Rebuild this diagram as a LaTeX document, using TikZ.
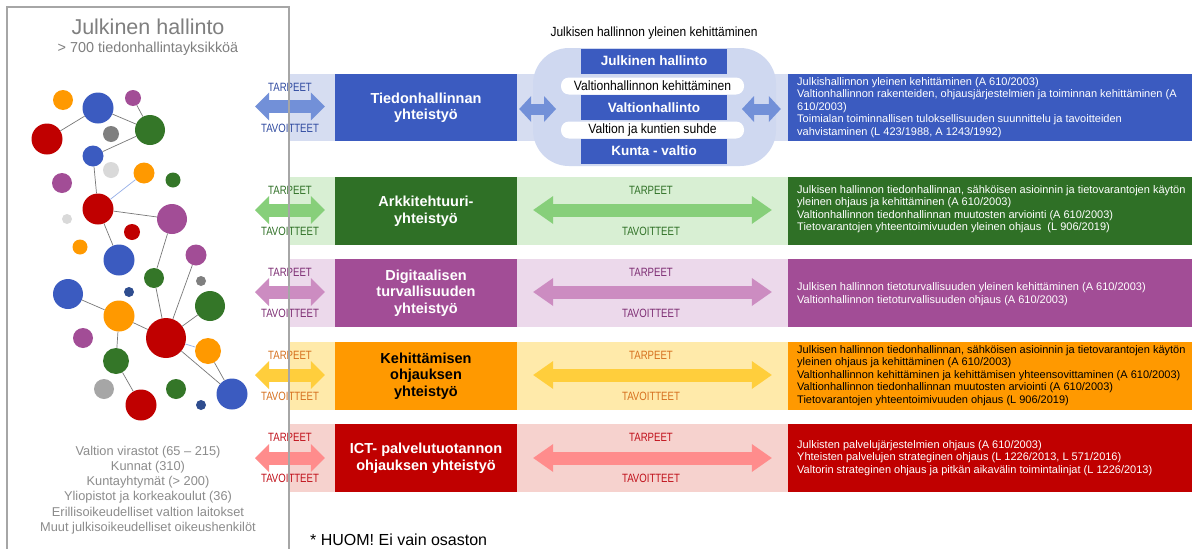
\documentclass[tikz,border=0pt]{standalone}
\usepackage{fontspec}
\setmainfont{Liberation Sans}
\newfontfamily\narrowfont[FakeStretch=0.8]{Liberation Sans}
\newfontfamily\semifont[FakeStretch=0.9]{Liberation Sans}
\usetikzlibrary{arrows.meta}
\definecolor{bDark}{RGB}{59,91,192}
\definecolor{bBand}{RGB}{214,221,241}
\definecolor{bArrow}{RGB}{114,144,216}
\definecolor{bLbl}{RGB}{47,74,160}
\definecolor{cloudc}{RGB}{207,216,240}
\definecolor{gDark}{RGB}{47,112,38}
\definecolor{gBand}{RGB}{216,239,211}
\definecolor{gArrow}{RGB}{135,207,122}
\definecolor{gLbl}{RGB}{47,112,38}
\definecolor{pDark}{RGB}{162,77,150}
\definecolor{pBand}{RGB}{236,217,235}
\definecolor{pArrow}{RGB}{204,140,193}
\definecolor{pLbl}{RGB}{125,45,115}
\definecolor{oDark}{RGB}{255,153,0}
\definecolor{oBand}{RGB}{255,234,170}
\definecolor{oArrow}{RGB}{255,206,60}
\definecolor{oLbl}{RGB}{214,112,30}
\definecolor{rDark}{RGB}{192,0,0}
\definecolor{rBand}{RGB}{246,210,206}
\definecolor{rArrow}{RGB}{255,140,140}
\definecolor{rLbl}{RGB}{192,16,26}
\definecolor{dOrange}{RGB}{255,153,0}
\definecolor{dBlue}{RGB}{59,91,192}
\definecolor{dPurple}{RGB}{162,77,150}
\definecolor{dRed}{RGB}{192,0,0}
\definecolor{dGreen}{RGB}{52,118,40}
\definecolor{dGray}{RGB}{127,127,127}
\definecolor{dLight}{RGB}{217,217,217}
\definecolor{dMid}{RGB}{166,166,166}
\definecolor{dNavy}{RGB}{47,77,143}
\definecolor{boxline}{RGB}{166,166,166}
\definecolor{graytext}{RGB}{140,140,140}
\definecolor{linkgray}{RGB}{120,120,120}
\definecolor{linkblue}{RGB}{150,175,232}
\begin{document}
\begin{tikzpicture}[x=1pt,y=-1pt,
  mainbox/.style={fill=#1, text=white, font=\bfseries\fontsize{14.5}{16.5}\selectfont, align=center, inner sep=0pt, minimum width=182pt, minimum height=68pt},
  rbox/.style={fill=#1, inner sep=0pt, minimum width=404pt, minimum height=68pt},
  rtext/.style={font=\fontsize{11}{12.5}\selectfont, align=left, inner sep=0pt, anchor=west},
  lbl/.style={font=\narrowfont\fontsize{12}{12}\selectfont, inner sep=0pt},
  dbl/.style={line width=13pt, {Triangle[width=28pt,length=14pt,line width=0pt]}-{Triangle[width=28pt,length=14pt,line width=0pt]}},
  dblmid/.style={line width=13pt, {Triangle[width=28pt,length=20pt,line width=0pt]}-{Triangle[width=28pt,length=20pt,line width=0pt]}},
  dblsmall/.style={line width=11pt, {Triangle[width=26pt,length=12pt,line width=0pt]}-{Triangle[width=26pt,length=12pt,line width=0pt]}},
  innerbox/.style={fill=bDark, text=white, font=\bfseries\fontsize{13.5}{14}\selectfont, inner sep=0pt, minimum width=146pt, minimum height=25pt},
  whitelbl/.style={fill=white, rounded corners=8pt, font=\semifont\fontsize{13.5}{14}\selectfont, inner sep=0pt, minimum width=183pt, minimum height=17pt},
  dot/.style={circle, fill=#1, inner sep=0pt, draw=none},
  link/.style={draw=linkgray, line width=0.7pt},
  linkb/.style={draw=linkblue, line width=0.7pt}
]
\useasboundingbox (0,0) rectangle (1192,549);
\fill[white] (0,0) rectangle (1192,549);

% ---------- bands ----------
\fill[bBand] (289,74) rectangle (788,141);
\fill[gBand] (289,177) rectangle (788,245);
\fill[pBand] (289,259) rectangle (788,327);
\fill[oBand] (289,342) rectangle (788,410);
\fill[rBand] (289,424) rectangle (788,492);

% ---------- cloud ----------
\fill[cloudc, rounded corners=36pt] (533,48) rectangle (776,166);
\node[font=\semifont\fontsize{13.3}{14}\selectfont, inner sep=0pt] (cloudtitle) at (654,33) {Julkisen hallinnon yleinen kehittäminen};
\node[innerbox] (jh) at (654,61) {Julkinen hallinto};
\node[whitelbl] (vk) at (652.5,86) {Valtionhallinnon kehittäminen};
\node[innerbox] (vh) at (654,107.5) {Valtionhallinto};
\node[whitelbl] (vks) at (652.5,130) {Valtion ja kuntien suhde};
\node[innerbox] (kv) at (654,151) {Kunta - valtio};

% ---------- main boxes ----------
\node[mainbox=bDark, minimum height=67pt] (m1) at (426,107.5) {Tiedonhallinnan\\yhteistyö};
\node[mainbox=gDark] (m2) at (426,211) {Arkkitehtuuri-\\yhteistyö};
\node[mainbox=pDark] (m3) at (426,293) {Digitaalisen\\turvallisuuden\\yhteistyö};
\node[mainbox=oDark, text=black] (m4) at (426,376) {Kehittämisen\\ohjauksen\\yhteistyö};
\node[mainbox=rDark] (m5) at (426,458) {ICT- palvelutuotannon\\ohjauksen yhteistyö};

% ---------- right boxes ----------
\node[rbox=bDark, minimum height=67pt] (r1) at (990,107.5) {};
\node[rbox=gDark] (r2) at (990,211) {};
\node[rbox=pDark] (r3) at (990,293) {};
\node[rbox=oDark] (r4) at (990,376) {};
\node[rbox=rDark] (r5) at (990,458) {};

\node[rtext, text=white] (t1) at (797,107.5) {Julkishallinnon yleinen kehittäminen (A 610/2003)\\Valtionhallinnon rakenteiden, ohjausjärjestelmien ja toiminnan kehittäminen (A\\610/2003)\\Toimialan toiminnallisen tuloksellisuuden suunnittelu ja tavoitteiden\\vahvistaminen (L 423/1988, A 1243/1992)};
\node[rtext, text=white] (t2) at (797,209) {Julkisen hallinnon tiedonhallinnan, sähköisen asioinnin ja tietovarantojen käytön\\yleinen ohjaus ja kehittäminen (A 610/2003)\\Valtionhallinnon tiedonhallinnan muutosten arviointi (A 610/2003)\\Tietovarantojen yhteentoimivuuden yleinen ohjaus \ (L 906/2019)};
\node[rtext, text=white] (t3) at (797,294) {Julkisen hallinnon tietoturvallisuuden yleinen kehittäminen (A 610/2003)\\Valtionhallinnon tietoturvallisuuden ohjaus (A 610/2003)};
\node[rtext, text=black] (t4) at (797,375.5) {Julkisen hallinnon tiedonhallinnan, sähköisen asioinnin ja tietovarantojen käytön\\yleinen ohjaus ja kehittäminen (A 610/2003)\\Valtionhallinnon kehittäminen ja kehittämisen yhteensovittaminen (A 610/2003)\\Valtionhallinnon tiedonhallinnan muutosten arviointi (A 610/2003)\\Tietovarantojen yhteentoimivuuden ohjaus (L 906/2019)};
\node[rtext, text=white] (t5) at (797,458) {Julkisten palvelujärjestelmien ohjaus (A 610/2003)\\Yhteisten palvelujen strateginen ohjaus (L 1226/2013, L 571/2016)\\Valtorin strateginen ohjaus ja pitkän aikavälin toimintalinjat (L 1226/2013)};

% ---------- arrows ----------
\coordinate (l1) at (255,106.5);
\coordinate (l2) at (255,210);
\coordinate (l3) at (255,292);
\coordinate (l4) at (255,375);
\coordinate (l5) at (255,458);
\draw[dbl, draw=bArrow] (l1) -- ([xshift=-10pt]m1.west |- l1);
\draw[dbl, draw=gArrow] (l2) -- ([xshift=-10pt]m2.west |- l2);
\draw[dbl, draw=pArrow] (l3) -- ([xshift=-10pt]m3.west |- l3);
\draw[dbl, draw=oArrow] (l4) -- ([xshift=-10pt]m4.west |- l4);
\draw[dbl, draw=rArrow] (l5) -- ([xshift=-10pt]m5.west |- l5);

\draw[dblmid, draw=gArrow] ([xshift=16pt,yshift=1pt]m2.east) -- ([xshift=-16pt,yshift=1pt]r2.west);
\draw[dblmid, draw=pArrow] ([xshift=16pt,yshift=1pt]m3.east) -- ([xshift=-16pt,yshift=1pt]r3.west);
\draw[dblmid, draw=oArrow] ([xshift=16pt,yshift=1pt]m4.east) -- ([xshift=-16pt,yshift=1pt]r4.west);
\draw[dblmid, draw=rArrow] ([xshift=16pt]m5.east) -- ([xshift=-16pt]r5.west);

\coordinate (ci1) at (556,109);
\coordinate (ci2) at (742,109);
\draw[dblsmall, draw=bArrow] ([xshift=2pt]m1.east |- ci1) -- (ci1);
\draw[dblsmall, draw=bArrow] (ci2) -- ([xshift=-7pt]r1.west |- ci2);

% ---------- labels ----------
\node[lbl, text=bLbl] (p1) at (290,87) {TARPEET};
\node[lbl, text=bLbl] (v1) at (290,128) {TAVOITTEET};
\foreach \c/\col/\n in {211/gLbl/2, 293/pLbl/3, 376/oLbl/4, 458/rLbl/5}{
  \node[lbl, text=\col] (pl\n) at (290,\c-21) {TARPEET};
  \node[lbl, text=\col] (vl\n) at (290,\c+20) {TAVOITTEET};
  \node[lbl, text=\col] (pm\n) at (651,\c-21) {TARPEET};
  \node[lbl, text=\col] (vm\n) at (651,\c+20) {TAVOITTEET};
}

% ---------- left panel ----------
\node[text=dGray, font=\fontsize{21.5}{22}\selectfont, inner sep=0pt] (title) at (148,27) {Julkinen hallinto};
\node[text=dGray, font=\fontsize{14.4}{15}\selectfont, inner sep=0pt] (sub) at (148,49) {> 700 tiedonhallintayksikköä};

\node[dot=dOrange, minimum size=20pt] (c1) at (63,100) {};
\node[dot=dBlue, minimum size=31pt] (c2) at (98,108) {};
\node[dot=dPurple, minimum size=16pt] (c3) at (133,98) {};
\node[dot=dRed, minimum size=31pt] (c4) at (47,139) {};
\node[dot=dGray, minimum size=16pt] (c5) at (111,134) {};
\node[dot=dGreen, minimum size=30pt] (c6) at (150,130) {};
\node[dot=dBlue, minimum size=21pt] (c7) at (93,156) {};
\node[dot=dLight, minimum size=16pt] (c8) at (111,170) {};
\node[dot=dOrange, minimum size=21pt] (c9) at (144,173) {};
\node[dot=dGreen, minimum size=15pt] (c10) at (173,180) {};
\node[dot=dPurple, minimum size=20pt] (c11) at (62,183) {};
\node[dot=dRed, minimum size=31pt] (c12) at (98,209) {};
\node[dot=dPurple, minimum size=30pt] (c13) at (172,219) {};
\node[dot=dLight, minimum size=10pt] (c14) at (67,219) {};
\node[dot=dRed, minimum size=16pt] (c15) at (132,232) {};
\node[dot=dOrange, minimum size=15pt] (c16) at (80,247) {};
\node[dot=dBlue, minimum size=31pt] (c17) at (119,260) {};
\node[dot=dPurple, minimum size=21pt] (c18) at (196,255) {};
\node[dot=dGreen, minimum size=20pt] (c19) at (154,278) {};
\node[dot=dGray, minimum size=10pt] (c20) at (201,281) {};
\node[dot=dBlue, minimum size=30pt] (c21) at (68,294) {};
\node[dot=dNavy, minimum size=10pt] (c22) at (129,292) {};
\node[dot=dGreen, minimum size=30pt] (c23) at (210,306) {};
\node[dot=dOrange, minimum size=31pt] (c24) at (119,316) {};
\node[dot=dRed, minimum size=40pt] (c25) at (166,338) {};
\node[dot=dPurple, minimum size=20pt] (c26) at (83,338) {};
\node[dot=dOrange, minimum size=26pt] (c27) at (208,351) {};
\node[dot=dGreen, minimum size=26pt] (c28) at (116,361) {};
\node[dot=dMid, minimum size=20pt] (c29) at (104,389) {};
\node[dot=dGreen, minimum size=20pt] (c30) at (176,389) {};
\node[dot=dBlue, minimum size=31pt] (c31) at (232,394) {};
\node[dot=dRed, minimum size=31pt] (c32) at (141,405) {};
\node[dot=dNavy, minimum size=10pt] (c33) at (201,405) {};

\draw[link] (c4) -- (c2);
\draw[link] (c2) -- (c6);
\draw[link] (c3) -- (c6);
\draw[link] (c6) -- (c7);
\draw[link] (c7) -- (c12);
\draw[linkb] (c12) -- (c9);
\draw[link] (c12) -- (c13);
\draw[link] (c12) -- (c17);
\draw[link] (c13) -- (c19);
\draw[link] (c18) -- (c25);
\draw[link] (c19) -- (c25);
\draw[link] (c21) -- (c24);
\draw[link] (c24) -- (c25);
\draw[link] (c24) -- (c28);
\draw[link] (c28) -- (c32);
\draw[link] (c25) -- (c23);
\draw[linkb] (c25) -- (c27);
\draw[link] (c25) -- (c31);
\draw[link] (c27) -- (c31);

\node[text=graytext, font=\fontsize{12.8}{15.2}\selectfont, align=center, inner sep=0pt] (legend) at (148,490) {Valtion virastot (65 – 215)\\Kunnat (310)\\Kuntayhtymät (> 200)\\Yliopistot ja korkeakoulut (36)\\Erillisoikeudelliset valtion laitokset\\Muut julkisoikeudelliset oikeushenkilöt};

\draw[boxline, line width=1.3pt] (7,560) -- (7,7) -- (289,7) -- (289,560);

\node[anchor=west, font=\fontsize{16}{17}\selectfont, inner sep=0pt] (huom) at (310,540) {* HUOM! Ei vain osaston};
\end{tikzpicture}
\end{document}
